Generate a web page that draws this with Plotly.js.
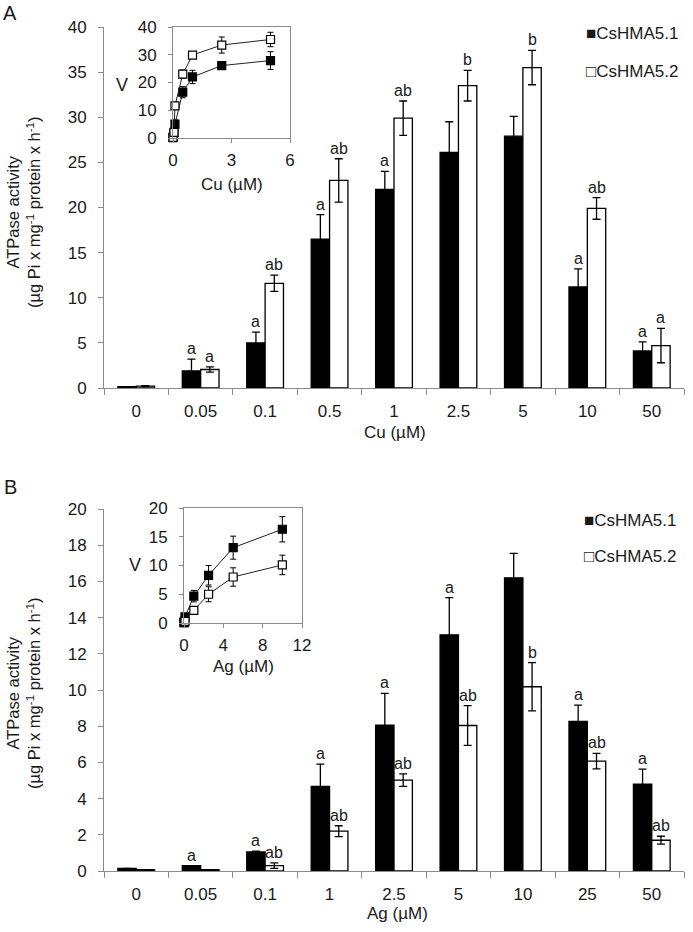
<!DOCTYPE html>
<html>
<head>
<meta charset="utf-8">
<script src="https://cdn.plot.ly/plotly-3.0.1.min.js"></script>
<style>html,body{margin:0;padding:0;background:#fff;}#chart{width:693px;height:932px;}</style>
</head>
<body>
<div id="chart"></div>
<script>
// ---------- Panel A (Cu) ----------
const catA = ['0','0.05','0.1','0.5','1','2.5','5','10','50'];
const cu51 = [0.15, 1.9, 5.0, 16.5, 22.0, 26.1, 27.9, 11.2, 4.1];
const cu51Err = [0, 1.3, 1.2, 2.7, 2.0, 3.4, 2.2, 2.0, 1.0];
const cu52 = [0.2, 2.05, 11.6, 23.0, 29.9, 33.5, 35.5, 19.9, 4.7];
const cu52Err = [0.05, 0.3, 0.9, 2.4, 1.9, 1.7, 1.9, 1.2, 1.9];
const cu51Lab = ['', 'a', 'a', 'a', 'a', '', '', 'a', 'a'];
const cu52Lab = ['', 'a', 'ab', 'ab', 'ab', 'b', 'b', 'ab', 'a'];

// inset A
const insCuX = [0, 0.05, 0.1, 0.5, 1, 2.5, 5];
const insCu51 = [0.15, 1.9, 5.0, 16.5, 22.0, 26.1, 27.9];
const insCu51Err = [0, 1.3, 1.5, 2.0, 2.4, 1.2, 3.2];
const insCu52 = [0.2, 2.05, 11.6, 23.0, 29.9, 33.5, 35.5];
const insCu52Err = [0, 0.3, 1.0, 1.5, 1.0, 2.9, 2.6];

// ---------- Panel B (Ag) ----------
const catB = ['0','0.05','0.1','1','2.5','5','10','25','50'];
const ag51 = [0.15, 0.3, 1.05, 4.67, 8.06, 13.05, 16.2, 8.26, 4.8];
const ag51Err = [0, 0, 0.05, 1.23, 1.75, 2.05, 1.35, 0.9, 0.83];
const ag52 = [0.08, 0.08, 0.3, 2.2, 5.02, 8.04, 10.18, 6.07, 1.7];
const ag52Err = [0, 0, 0.15, 0.3, 0.35, 1.1, 1.33, 0.43, 0.22];
const ag51Lab = ['', 'a', 'a', 'a', 'a', 'a', '', 'a', 'a'];
const ag52Lab = ['', '', 'ab', 'ab', 'ab', 'ab', 'b', 'ab', 'ab'];

// inset B
const insAgX = [0, 0.05, 0.1, 1, 2.5, 5, 10];
const insAg51 = [0.15, 0.3, 1.05, 4.67, 8.3, 13.1, 16.3];
const insAg51Err = [0, 0, 0.1, 1.0, 1.7, 2.0, 2.2];
const insAg52 = [0.08, 0.08, 0.3, 2.2, 5.0, 8.0, 10.1];
const insAg52Err = [0, 0, 0.1, 0.5, 1.3, 1.6, 1.7];

const seriesNames = ['CsHMA5.1', 'CsHMA5.2'];

const FONT = 'Liberation Sans, Arial, sans-serif';
const TXT = '#1a1a1a';
const AX = '#8a8a8a';
const W = 693, H = 932;

function barTrace(cats, vals, errs, fill, xa, ya, name) {
  return {
    type: 'bar', x: cats, y: vals, name: name, xaxis: xa, yaxis: ya,
    marker: {color: fill, line: {color: '#000', width: 1.3}},
    error_y: {type: 'data', array: errs, visible: true, color: '#000', thickness: 1.3, width: 4},
    showlegend: false, hoverinfo: 'x+y'
  };
}
function lineTrace(xs, ys, errs, fill, xa, ya, name) {
  return {
    type: 'scatter', mode: 'lines+markers', x: xs, y: ys, name: name, xaxis: xa, yaxis: ya,
    line: {color: '#222', width: 1},
    marker: {symbol: 'square', size: 8, color: fill, line: {color: '#000', width: 1.2}},
    error_y: {type: 'data', array: errs, visible: true, color: '#000', thickness: 1, width: 3},
    cliponaxis: false, showlegend: false
  };
}

const data = [
  barTrace(catA, cu51, cu51Err, '#000', 'x', 'y', seriesNames[0]),
  barTrace(catA, cu52, cu52Err, '#fff', 'x', 'y', seriesNames[1]),
  lineTrace(insCuX, insCu51, insCu51Err, '#000', 'x2', 'y2', seriesNames[0]),
  lineTrace(insCuX, insCu52, insCu52Err, '#fff', 'x2', 'y2', seriesNames[1]),
  barTrace(catB, ag51, ag51Err, '#000', 'x3', 'y3', seriesNames[0]),
  barTrace(catB, ag52, ag52Err, '#fff', 'x3', 'y3', seriesNames[1]),
  lineTrace(insAgX, insAg51, insAg51Err, '#000', 'x4', 'y4', seriesNames[0]),
  lineTrace(insAgX, insAg52, insAg52Err, '#fff', 'x4', 'y4', seriesNames[1])
];

const px = v => v / W;
const py = v => 1 - v / H;

function catAxis(domain, anchor) {
  return {
    type: 'category', domain: domain, anchor: anchor, range: [-0.5, 8.5],
    showline: true, linecolor: AX, linewidth: 1, ticks: 'outside', tickson: 'boundaries',
    ticklen: 6, tickcolor: AX, showgrid: false, zeroline: false,
    tickfont: {family: FONT, size: 17, color: TXT}, ticklabelstandoff: 8, fixedrange: true
  };
}
function valAxis(domain, anchor, max, dt) {
  return {
    domain: domain, anchor: anchor, range: [0, max], dtick: dt, tick0: 0,
    showline: true, linecolor: AX, linewidth: 1, ticks: 'outside', ticklen: 5, tickcolor: AX,
    showgrid: false, zeroline: false,
    tickfont: {family: FONT, size: 17, color: TXT}, ticklabelstandoff: 8, fixedrange: true
  };
}
function insAxis(domain, anchor, max, dt, isX) {
  return {
    domain: domain, anchor: anchor, range: [0, max], dtick: dt, tick0: 0,
    showline: true, mirror: true, linecolor: AX, linewidth: 1,
    ticks: 'outside', ticklen: 4, tickcolor: AX, showgrid: false, zeroline: false,
    tickfont: {family: FONT, size: 17, color: TXT}, ticklabelstandoff: isX ? 3 : 8, fixedrange: true
  };
}

const layout = {
  width: W, height: H,
  margin: {l: 0, r: 0, t: 0, b: 0},
  paper_bgcolor: '#fff', plot_bgcolor: 'rgba(0,0,0,0)',
  barmode: 'group', bargap: 0.43, bargroupgap: 0,
  font: {family: FONT, color: TXT},
  xaxis: catAxis([px(104), px(684)], 'y'),
  yaxis: valAxis([py(388), py(27)], 'x', 40, 5),
  xaxis2: insAxis([px(173), px(290)], 'y2', 6, 3, true),
  yaxis2: insAxis([py(138), py(27)], 'x2', 40, 10, false),
  xaxis3: catAxis([px(104), px(684)], 'y3'),
  yaxis3: valAxis([py(871), py(509)], 'x3', 20, 2),
  xaxis4: insAxis([px(184), px(302)], 'y4', 12, 4, true),
  yaxis4: insAxis([py(623), py(508)], 'x4', 20, 5, false),
  annotations: [],
  showlegend: false
};

const ann = layout.annotations;
function addLetters(cats, vals, errs, labs, shift, xa, ya) {
  cats.forEach((c, i) => {
    if (!labs[i]) return;
    ann.push({x: i, y: vals[i] + errs[i], xref: xa, yref: ya, text: labs[i], showarrow: false,
      xanchor: 'center', yanchor: 'bottom', xshift: shift, yshift: 0,
      font: {family: FONT, size: 16, color: TXT}});
  });
}
addLetters(catA, cu51, cu51Err, cu51Lab, -9.2, 'x', 'y');
addLetters(catA, cu52, cu52Err, cu52Lab, 9.2, 'x', 'y');
addLetters(catB, ag51, ag51Err, ag51Lab, -9.2, 'x3', 'y3');
addLetters(catB, ag52, ag52Err, ag52Lab, 9.2, 'x3', 'y3');

function txt(x, y, text, size, opts) {
  ann.push(Object.assign({x: px(x), y: py(y), xref: 'paper', yref: 'paper', text: text, showarrow: false,
    xanchor: 'center', yanchor: 'middle', font: {family: FONT, size: size, color: TXT}}, opts || {}));
}
const yTitle = 'ATPase activity<br>(µg Pi x mg<sup>-1</sup> protein x h<sup>-1</sup>)';
// panel letters
txt(10, 13, 'A', 20);
txt(10, 487, 'B', 20);
// y titles
txt(23, 213, yTitle, 16.5, {textangle: -90});
txt(23, 694, yTitle, 16.5, {textangle: -90});
// x titles
txt(395, 432, 'Cu (µM)', 17);
txt(397, 913, 'Ag (µM)', 17);
txt(232, 184, 'Cu (µM)', 17);
txt(243, 666, 'Ag (µM)', 17);
// inset V labels
txt(122, 85, 'V', 18);
txt(135, 565, 'V', 18);
// legends
txt(584, 34, '■' + seriesNames[0], 17, {xanchor: 'left'});
txt(584, 71, '□' + seriesNames[1], 17, {xanchor: 'left'});
txt(582, 520, '■' + seriesNames[0], 17, {xanchor: 'left'});
txt(582, 556, '□' + seriesNames[1], 17, {xanchor: 'left'});

Plotly.newPlot('chart', data, layout, {staticPlot: true, displayModeBar: false});
</script>
</body>
</html>
